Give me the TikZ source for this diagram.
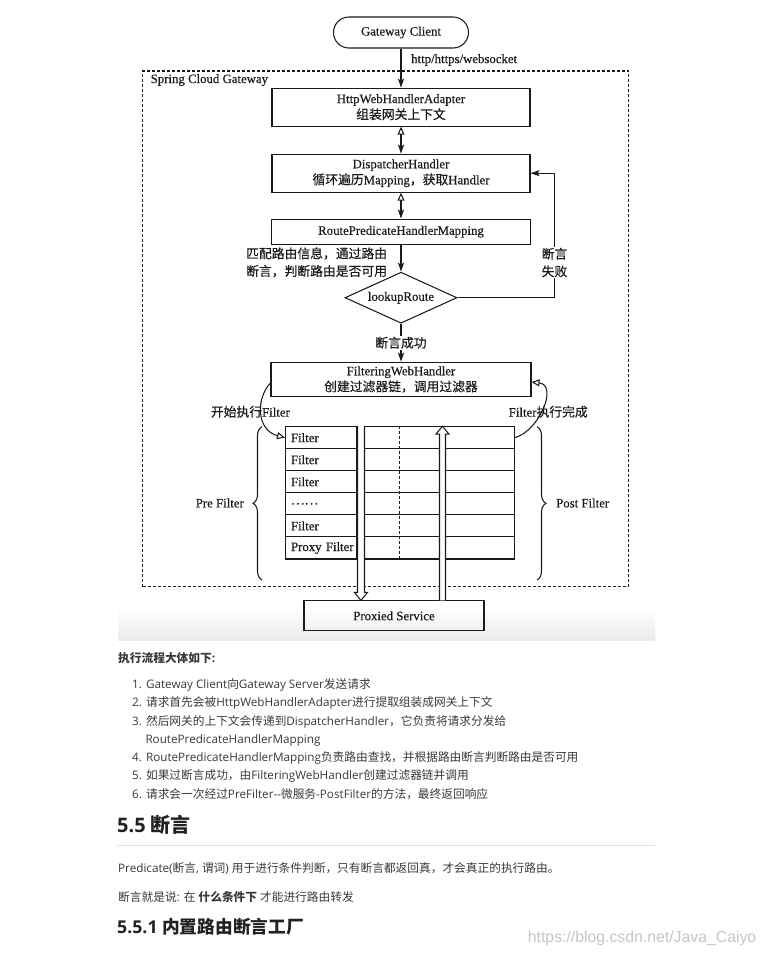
\documentclass[tikz,border=0pt]{standalone}
\usepackage{fontspec}
\setmainfont{Liberation Serif}
\newfontfamily\dser{Liberation Serif}[FakeBold=0.35]
\newfontfamily\dcjk{Noto Sans CJK SC}[FakeBold=0.3]
\newfontfamily\cjk{Noto Sans CJK SC}
\newfontfamily\osans{Open Sans}
\newfontfamily\wmfont{Liberation Sans}
\usetikzlibrary{arrows.meta,shapes.geometric,calc,decorations.pathreplacing}
\definecolor{lc}{HTML}{1A1A1A}
\definecolor{bodyc}{HTML}{3A3A3A}
\definecolor{headc}{HTML}{222222}
\definecolor{wmc}{HTML}{C6C6C6}
\definecolor{rulec}{HTML}{E2E2E2}
\newcommand\zh[1]{{\cjk #1}}
\newcommand\dz[1]{{\dcjk #1}}
\newcommand\dfont{\fontsize{12.8}{16}\selectfont\dser}
\newcommand\dfontb{\fontsize{12.8}{17.6}\selectfont\dser}
\newcommand\bfont{\fontsize{11.7}{15}\selectfont\osans}
\begin{document}
\begin{tikzpicture}[x=1pt,y=-1pt,
  conn/.style={draw=lc, line width=1.05pt},
  fillarrow/.style={-{Stealth[length=9pt,width=6pt,inset=2pt]}},
  dblarrow/.style={{Triangle[open,length=8pt,width=7pt]}-{Stealth[length=9pt,width=6pt,inset=2pt]}},
  openarrow/.style={-{Triangle[open,length=8pt,width=7pt]}},
  box/.style={draw=lc, line width=1.05pt, inner sep=0pt, align=center, font=\dfont, text=lc},
  lab/.style={inner sep=1pt, font=\dfontb, text=lc},
  rowbox/.style={draw=lc, line width=1.05pt, minimum width=229pt, minimum height=22.05pt,
    text width=218pt, inner xsep=5.5pt, inner ysep=0pt, align=left, font=\dfont, text=lc},
  btxt/.style={anchor=base west, inner sep=0pt, text=bodyc, font=\bfont}]
\useasboundingbox (0,0) rectangle (764,956);
\fill[white] (0,0) rectangle (764,956);
\shade[top color=white, bottom color=black!8] (118,606) rectangle (655,640);

% container
\node[draw=lc, line width=1.05pt, dash pattern=on 3pt off 2pt, minimum width=485.7pt,
      minimum height=515.5pt, inner sep=0pt] (scg) at (385.45,328.75) {};
\node[lab, anchor=west] (scgl) at (149.5,80) {Spring Cloud Gateway};

% main column
\node[box, rounded corners=15.5pt, minimum width=135pt, minimum height=31pt] (gc) at (401,32.5) {Gateway Client};
\node[lab, anchor=west] (proto) at (410,60) {http/https/websocket};
\node[box, minimum width=258pt, minimum height=38pt] (hw) at (401,107.2)
  {HttpWebHandlerAdapter\\\dz{组装网关上下文}};
\node[box, minimum width=258pt, minimum height=38pt] (dh) at (401,173.2)
  {DispatcherHandler\\\dz{循环遍历}Mapping\dz{，获取}Handler};
\node[box, minimum width=259pt, minimum height=25.3pt] (rp) at (401,231.7)
  {RoutePredicateHandlerMapping};
\node[draw=lc, line width=1.05pt, diamond, aspect=2.2, inner sep=0pt, minimum width=112pt,
      minimum height=51pt, font=\dfont, text=lc] (lr) at (401,297.7) {lookupRoute};
\node[box, minimum width=260pt, minimum height=34.5pt] (fw) at (401,379.5)
  {FilteringWebHandler\\\dz{创建过滤器链，调用过滤器}};

\node[lab, anchor=west, align=left] (match) at (245,262.3)
  {\dz{匹配路由信息，通过路由}\\\dz{断言，判断路由是否可用}};

% connectors
\draw[conn, fillarrow] (gc.south) -- (hw.north);
\draw[conn, dblarrow] (hw.south) -- (dh.north);
\draw[conn, dblarrow] (dh.south) -- (rp.north);
\draw[conn, fillarrow] (rp.south) -- (lr.north);
\draw[conn, fillarrow] (lr.south) -- node[lab, fill=white] (ok) {\dz{断言成功}} (fw.north);
\coordinate (lp) at (554.5,173.2);
\draw[conn, fillarrow] (lr.east) -| (lp) -- (dh.east);
\node[lab, fill=white, align=center] (fail) at (554.5,262.5) {\dz{断言}\\\dz{失败}};

% filter table
\node[rowbox] (r1) at (400,437.7) {Filter};
\node[rowbox] (r2) at (400,459.75) {Filter};
\node[rowbox] (r3) at (400,481.8) {Filter};
\node[rowbox] (r4) at (400,503.85) {\dz{……}};
\node[rowbox] (r5) at (400,525.9) {Filter};
\node[rowbox] (r6) at (400,547.95) {Proxy Filter};
\draw[conn] ($(r1.north west)+(71.5,0)$) -- ($(r6.south west)+(71.5,0)$);
\draw[conn, dash pattern=on 3pt off 2pt] ($(r1.north west)+(114.5,0)$) -- ($(r6.south west)+(114.5,0)$);

% proxied service
\node[box, minimum width=180pt, minimum height=29.7pt] (ps) at (394,615.8) {Proxied Service};

% hollow arrows
\coordinate (dn) at ($(r1.north west)+(76,0)$);
\coordinate (up) at ($(r1.north west)+(157.5,0)$);
\draw[conn, fill=white] ($(dn)+(-3.5,0)$) -- ($(dn |- ps.north)+(-3.5,-8)$) -- ($(dn |- ps.north)+(-6.5,-8)$)
  -- (dn |- ps.north) -- ($(dn |- ps.north)+(6.5,-8)$) -- ($(dn |- ps.north)+(3.5,-8)$) -- ($(dn)+(3.5,0)$);
\draw[conn, fill=white] ($(up |- ps.north)+(-3,0)$) -- ($(up)+(-3,8)$) -- ($(up)+(-6.5,8)$)
  -- (up) -- ($(up)+(6.5,8)$) -- ($(up)+(3,8)$) -- ($(up |- ps.north)+(3,0)$);

% braces
\draw[conn, decorate, decoration={brace, amplitude=9pt}] (262,580) -- (262,426.7);
\draw[conn, decorate, decoration={brace, amplitude=9pt}] (537,426.7) -- (537,580);
\node[lab, anchor=east] (pre) at (245,503) {Pre Filter};
\node[lab, anchor=west] (post) at (555,503) {Post Filter};

% filter start / end curves
\draw[conn, openarrow] ($(fw.west)+(0,3.5)$) .. controls (256,398) and (256,430) .. (r1.west);
\draw[conn, openarrow] (r1.east) .. controls (540,430) and (558,385) .. ($(fw.east)+(0,2.5)$);
\node[lab, anchor=west] (fstart) at (209.7,411.7) {\dz{开始执行}Filter};
\node[lab, anchor=west] (fend) at (507.6,411.7) {Filter\dz{执行完成}};

% text below
\node[btxt, font=\bfont\bfseries] (intro) at (118,662.4) {\zh{执行流程大体如下}:};
\node[btxt] (i1) at (132,688.4) {1. Gateway Client\zh{向}Gateway Server\zh{发送请求}};
\node[btxt] (i2) at (132,706.7) {2. \zh{请求首先会被}HttpWebHandlerAdapter\zh{进行提取组装成网关上下文}};
\node[btxt] (i3) at (132,725.0) {3. \zh{然后网关的上下文会传递到}DispatcherHandler\zh{，它负责将请求分发给}};
\node[btxt] (i3b) at (145.3,743.3) {RoutePredicateHandlerMapping};
\node[btxt] (i4) at (132,761.6) {4. RoutePredicateHandlerMapping\zh{负责路由查找，并根据路由断言判断路由是否可用}};
\node[btxt] (i5) at (132,779.9) {5. \zh{如果过断言成功，由}FilteringWebHandler\zh{创建过滤器链并调用}};
\node[btxt] (i6) at (132,798.2) {6. \zh{请求会一次经过}PreFilter--\zh{微服务}-PostFilter\zh{的方法，最终返回响应}};

\node[btxt, text=headc, font=\fontsize{20}{24}\selectfont\osans\bfseries] (h55) at (117,832.6) {5.5 \zh{断言}};
\draw[rulec, line width=1pt] (117,845) -- (655,845);
\node[btxt] (p1) at (118,872.4) {Predicate(\zh{断言}, \zh{谓词}) \zh{用于进行条件判断，只有断言都返回真，才会真正的执行路由。}};
\node[btxt] (p2) at (118,901.4) {\zh{断言就是说}: \zh{在} {\bfseries\zh{什么条件下}} \zh{才能进行路由转发}};
\node[btxt, text=headc, font=\fontsize{17.7}{21}\selectfont\osans\bfseries] (h551) at (117,933.7) {5.5.1 \zh{内置路由断言工厂}};
\node[anchor=base west, inner sep=0pt, text=wmc, font=\fontsize{15.8}{18}\selectfont\wmfont] (wm) at (527.7,942.5) {https://blog.csdn.net/Java\_Caiyo};
\end{tikzpicture}
\end{document}
